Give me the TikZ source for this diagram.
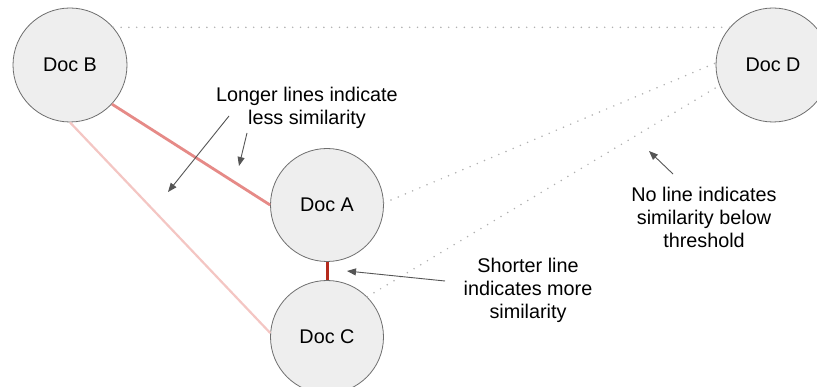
\documentclass[tikz,border=0pt]{standalone}
\usepackage{fontspec}
\setmainfont{Liberation Sans}
\usetikzlibrary{arrows.meta}
\definecolor{docfill}{HTML}{EEEEEE}
\definecolor{docedge}{HTML}{6E6E6E}
\definecolor{linkmid}{HTML}{E68A87}
\definecolor{linkweak}{HTML}{F4C6C3}
\definecolor{linkstrong}{HTML}{B52A1C}
\definecolor{linkdot}{HTML}{B0B0B0}
\definecolor{notegray}{HTML}{555555}
\tikzset{
  doc/.style={circle, draw=docedge, line width=0.8pt, fill=docfill,
    minimum size=114pt, inner sep=0pt, font=\fontsize{19.8}{23}\selectfont},
  note/.style={align=center, font=\fontsize{19.8}{23}\selectfont, inner sep=0pt},
  dotlink/.style={draw=linkdot, line width=1.7pt, line cap=round,
    dash pattern=on 0pt off 7.8pt},
  pointer/.style={draw=notegray, line width=0.9pt,
    -{Triangle[length=9pt,width=7pt]}}
}
\begin{document}
\begin{tikzpicture}[x=1pt,y=-1pt]
\clip (0,0) rectangle (817,387);
\fill[white] (0,0) rectangle (817,387);

% documents
\node[doc] (B) at (70,65)  {Doc B};
\node[doc] (D) at (773,65) {Doc D};
\node[doc, minimum size=113pt] (A) at (327,205) {Doc A};
\node[doc, minimum size=113pt] (C) at (327,337) {Doc C};

% similarity links: solid where similar, dotted below threshold
\draw[linkmid, line width=2.8pt]   (B.-43) -- (A.180);
\draw[linkweak, line width=2.2pt]  (B.-90) -- (C.176);
\draw[linkstrong, line width=3pt]  (A.south) -- (C.north);
\draw[dotlink] (B.41) -- (D.139);
\draw[dotlink] (A.2) -- (D.178);
\draw[dotlink] (C.45) -- (D.201);

% annotations
\node[note] (longer) at (307,108) {Longer lines indicate\\less similarity};
\node[note] (shorter) at (528,290) {Shorter line\\indicates more\\similarity};
\node[note] (noline) at (704,217) {No line indicates\\similarity below\\threshold};

\coordinate (p1s) at (229,116);
\coordinate (p1e) at (168,192);
\coordinate (p2s) at (247,133);
\coordinate (p2e) at (239,166);
\coordinate (p3s) at (445,281);
\coordinate (p3e) at (347,271);
\coordinate (p4s) at (673,174);
\coordinate (p4e) at (649,151);
\draw[pointer] (p1s) -- (p1e);
\draw[pointer] (p2s) -- (p2e);
\draw[pointer] (p3s) -- (p3e);
\draw[pointer] (p4s) -- (p4e);
\end{tikzpicture}
\end{document}
